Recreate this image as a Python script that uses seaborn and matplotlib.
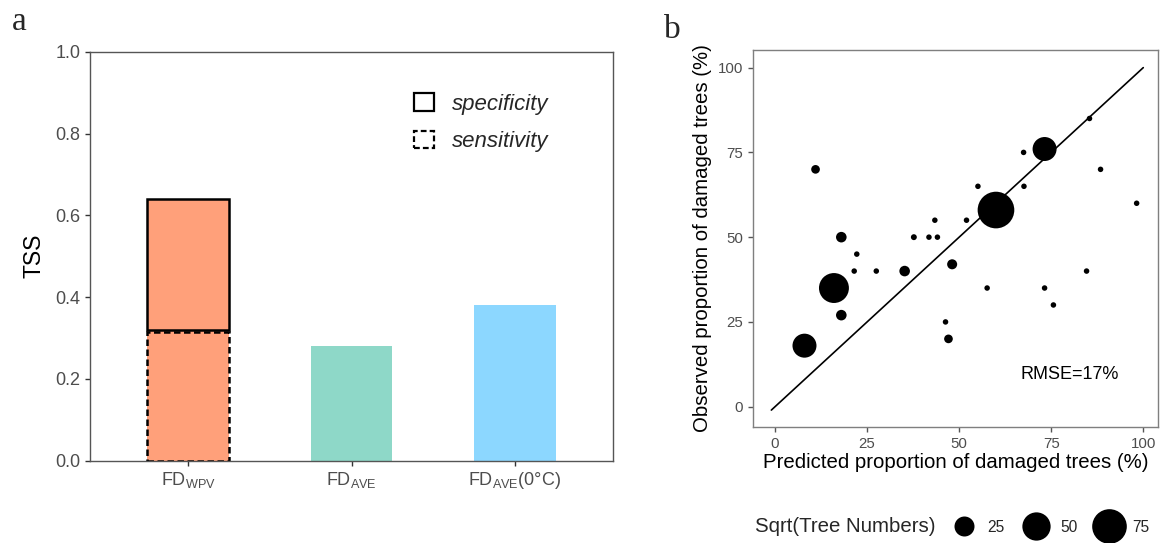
import numpy as np
import pandas as pd
import matplotlib
matplotlib.use("Agg")
import matplotlib.pyplot as plt
import seaborn as sns
from matplotlib.patches import Patch
from matplotlib.lines import Line2D

# ---------------- data ----------------
# panel a
model_keys = ["FDWPV", "FDAVE", "FDAVE0C"]
model_labels = ["FD$_{\\mathregular{WPV}}$", "FD$_{\\mathregular{AVE}}$", "FD$_{\\mathregular{AVE}}$(0°C)"]
tss_values = [0.64, 0.28, 0.38]
sensitivity_wpv = 0.315
bar_colors = ["#FFA07A", "#8ED8C8", "#8CD7FF"]
legend_a_labels = ["specificity", "sensitivity"]

# panel b
predicted = [8, 11, 16, 18, 18, 21.5, 22.2, 27.5, 35.2, 37.7, 41.8, 43.4, 44.1, 46.3, 47.1,
             48.1, 52, 55.1, 57.6, 60, 67.5, 67.6, 73.2, 73.2, 75.6, 84.6, 85.4, 88.4, 98.2]
observed = [18, 70, 35, 50, 27, 40, 45, 40, 40, 50, 50, 55, 50, 25, 20,
            42, 55, 65, 35, 58, 75, 65, 76, 35, 30, 40, 85, 70, 60]
sqrt_trees = [36, 4.7, 56, 7, 7, 1.9, 1.9, 1.9, 7, 2.2, 1.9, 1.9, 1.9, 1.9, 4.7,
              6.3, 1.9, 1.9, 1.9, 84, 1.9, 1.9, 36, 1.9, 1.9, 1.9, 1.9, 1.9, 1.9]
line_x = [-1, 100]
line_y = [-1, 100]
size_legend_values = [25, 50, 75]
rmse_text = "RMSE=17%"

# ---------------- style ----------------
sns.set_theme(style="white")
plt.rcParams["font.family"] = ["Liberation Sans", "DejaVu Sans"]
plt.rcParams["mathtext.fontset"] = "custom"
plt.rcParams["mathtext.rm"] = "Liberation Sans"

W, H = 1164, 543
fig = plt.figure(figsize=(W / 100, H / 100), dpi=100)

def fr(x0, y0, x1, y1):
    return [x0 / W, 1 - y1 / H, (x1 - x0) / W, (y1 - y0) / H]

tick_gray = "#4D4D4D"

# ---------------- panel a ----------------
axa = fig.add_axes(fr(90, 52, 613, 460.5))
sns.barplot(x=model_keys, y=tss_values, hue=model_keys, order=model_keys, hue_order=model_keys,
            palette=bar_colors, saturation=1, width=0.5, errorbar=None, legend=False,
            linewidth=0, ax=axa)
# sensitivity part (dashed outline)
sns.barplot(x=[model_keys[0]], y=[sensitivity_wpv], order=model_keys, width=0.5, errorbar=None,
            facecolor="none", edgecolor="black", linewidth=1.8, linestyle=(0, (2.6, 1.4)), ax=axa)
# specificity part (solid outline)
sns.barplot(x=[model_keys[0]], y=[tss_values[0] - sensitivity_wpv - 0.004], order=model_keys, width=0.5,
            errorbar=None, bottom=sensitivity_wpv + 0.004, facecolor="none", edgecolor="black",
            linewidth=1.8, ax=axa)
axa.set_xlim(-0.6, 2.6)
axa.set_ylim(0, 1.0)
axa.set_yticks([0.0, 0.2, 0.4, 0.6, 0.8, 1.0])
axa.set_yticklabels(["0.0", "0.2", "0.4", "0.6", "0.8", "1.0"])
axa.set_xticks(range(len(model_keys)))
axa.set_xticklabels(model_labels)
axa.set_xlabel("")
axa.set_ylabel("TSS", fontsize=16.5, color="black", labelpad=7)
axa.tick_params(axis="both", which="both", length=3.6, width=1.0, color="#333333",
                labelsize=13, labelcolor=tick_gray, pad=3.5, bottom=True, left=True)
for s in axa.spines.values():
    s.set_color("#555555")
    s.set_linewidth(1.0)
handles_a = [Patch(facecolor="white", edgecolor="black", linewidth=1.6),
             Patch(facecolor="white", edgecolor="black", linewidth=1.6, linestyle=(0, (2.6, 1.4)))]
axa.legend(handles_a, legend_a_labels, loc="upper left",
           bbox_to_anchor=(414 / W, 1 - 93 / H), bbox_transform=fig.transFigure,
           frameon=False, prop={"size": 16, "style": "italic"}, handlelength=0.9,
           handleheight=0.86, handletextpad=0.8, labelspacing=0.72, borderpad=0, borderaxespad=0)

# ---------------- panel b ----------------
axb = fig.add_axes(fr(753.3, 50, 1158, 426.7))
df_b = pd.DataFrame({"predicted": predicted, "observed": observed, "sqrt_trees": sqrt_trees})
smax = 8.29 * 100
sns.lineplot(x=line_x, y=line_y, color="black", linewidth=1.2, ax=axb)
sns.scatterplot(data=df_b, x="predicted", y="observed", size="sqrt_trees",
                sizes=(0, smax), size_norm=(0, 100), color="black", linewidth=0,
                legend=False, ax=axb, zorder=3)
axb.set_xlim(-5.9, 104)
axb.set_ylim(-5.9, 105.2)
axb.set_xticks([0, 25, 50, 75, 100])
axb.set_yticks([0, 25, 50, 75, 100])
axb.set_xlabel("Predicted proportion of damaged trees (%)", fontsize=14.7, color="black", labelpad=2)
axb.set_ylabel("Observed proportion of damaged trees (%)", fontsize=14.7, color="black", labelpad=4)
axb.tick_params(axis="both", which="both", length=3.6, width=1.0, color="#555555",
                labelsize=10.8, labelcolor=tick_gray, pad=3.6, bottom=True, left=True)
for s in axb.spines.values():
    s.set_color("#7F7F7F")
    s.set_linewidth(1.0)
axb.text(80, 9.6, rmse_text, fontsize=13, ha="center", va="center", color="black")

# size legend
fig.text(755 / W, 1 - 527 / H, "Sqrt(Tree Numbers)", fontsize=14.7, ha="left", va="center")
handles_b = [Line2D([], [], marker="o", linestyle="none", color="black", markeredgewidth=0,
                    markersize=np.sqrt(8.29 * v)) for v in size_legend_values]
fig.legend(handles_b, [str(v) for v in size_legend_values], loc="center left",
           bbox_to_anchor=(946.5 / W, 1 - 527 / H), ncol=3, frameon=False, fontsize=11.2,
           handlelength=2.2, handletextpad=0.45, columnspacing=0.9, borderpad=0, borderaxespad=0)

# panel letters
fig.text(19.5 / W, 1 - 30 / H, "a", fontsize=24, family="Liberation Serif", ha="center", va="baseline")
fig.text(672 / W, 1 - 38 / H, "b", fontsize=24, family="Liberation Serif", ha="center", va="baseline")

fig.savefig("out.png", dpi=100, facecolor="white")
